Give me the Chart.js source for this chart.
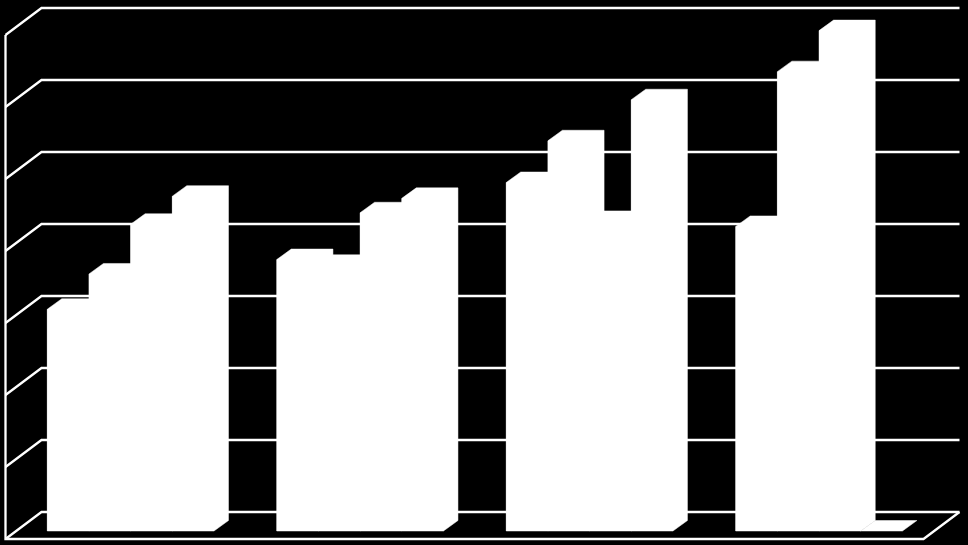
<!DOCTYPE html>
<html>
<head>
<meta charset="utf-8">
<style>
  html, body { margin: 0; padding: 0; background: #000; overflow: hidden; }
  #wrap { width: 968px; height: 545px; }
</style>
<script src="https://cdn.jsdelivr.net/npm/chart.js@4"></script>
</head>
<body>
<div id="wrap"><canvas id="chart"></canvas></div>
<script>
const categories = ['1', '2', '3', '4']
const series1 = [30.8, 37.7, 48.4, 42.3]
const series2 = [35.7, 36.9, 54.2, 63.8]
const series3 = [42.6, 44.2, 43.0, 69.5]
const series4 = [46.5, 46.2, 59.9, 0]

// 3D look: the walls sit behind the bars, the bars get a small extrusion
const wallDx = 36, wallDy = 27
const barDx = 14.5, barDy = 10.5
const gridShift = 19 // back wall zero line is this far above the bars' zero line

const walls = {
  id: 'walls',
  beforeDatasetsDraw(chart) {
    const { ctx, scales: { y } } = chart
    const left = 5.5, back = left + wallDx, right = 959.5
    ctx.save()
    ctx.strokeStyle = '#fff'
    ctx.lineWidth = 2.3
    ctx.lineJoin = 'miter'
    y.ticks.forEach(t => {
      const py = y.getPixelForValue(t.value) - gridShift
      ctx.beginPath()
      ctx.moveTo(left, py + wallDy)
      ctx.lineTo(back, py)
      ctx.lineTo(right, py)
      ctx.stroke()
    })
    const top = y.getPixelForValue(y.max) - gridShift + wallDy
    const floor = y.getPixelForValue(0) - gridShift + wallDy
    ctx.beginPath()
    ctx.moveTo(left, top)
    ctx.lineTo(left, floor)
    ctx.lineTo(right - wallDx, floor)
    ctx.lineTo(right, floor - wallDy)
    ctx.stroke()
    ctx.restore()
  }
}

// one outline per bar (front + top + side) so no seams show between the faces
const extrude = {
  id: 'extrude',
  afterDatasetsDraw(chart) {
    const { ctx } = chart
    ctx.save()
    ctx.fillStyle = '#fff'
    ctx.strokeStyle = '#fff'
    ctx.lineWidth = 0.5
    chart.data.datasets.forEach((d, i) => {
      chart.getDatasetMeta(i).data.forEach(bar => {
        const l = bar.x - bar.width / 2, r = bar.x + bar.width / 2
        ctx.beginPath()
        ctx.moveTo(l, bar.base)
        ctx.lineTo(l, bar.y)
        ctx.lineTo(l + barDx, bar.y - barDy)
        ctx.lineTo(r + barDx, bar.y - barDy)
        ctx.lineTo(r + barDx, bar.base - barDy)
        ctx.lineTo(r, bar.base)
        ctx.closePath()
        ctx.fill()
        ctx.stroke()
      })
    })
    ctx.restore()
  }
}

const dataset = (label, data) => ({
  label,
  data,
  backgroundColor: '#fff',
  borderWidth: 0,
  categoryPercentage: 0.7264,
  barPercentage: 1
})

new Chart(document.getElementById('chart'), {
  type: 'bar',
  data: {
    labels: categories,
    datasets: [
      dataset('Series 1', series1),
      dataset('Series 2', series2),
      dataset('Series 3', series3),
      dataset('Series 4', series4)
    ]
  },
  options: {
    responsive: true,
    maintainAspectRatio: false,
    animation: false,
    layout: { padding: { left: 15.9, right: 34.2, top: 27, bottom: 14 } },
    plugins: { legend: { display: false }, tooltip: { enabled: false } },
    scales: {
      x: { display: false },
      y: { display: false, min: 0, max: 70, ticks: { stepSize: 10 } }
    }
  },
  plugins: [walls, extrude]
})
</script>
</body>
</html>
